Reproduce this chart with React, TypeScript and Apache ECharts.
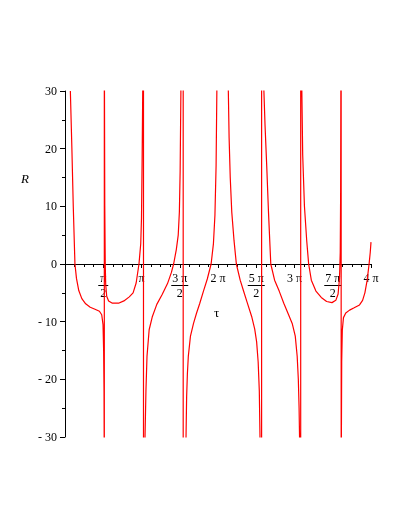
import React, { useEffect, useRef } from "react";
import * as echarts from "echarts";

// tau in multiples of pi, R values
const branch1 = [[0.07,30],[0.09,20],[0.108,10],[0.13,0],[0.15,-2.5],[0.18,-4.6],[0.22,-6.0],[0.27,-6.9],[0.33,-7.5],[0.4,-7.9],[0.45,-8.2],[0.48,-8.8],[0.497,-10.5],[0.505,-15],[0.51,-22],[0.512,-30]];
const pole1 = [[0.514,-80],[0.514,80]];
const branch2 = [[0.516,30],[0.52,10],[0.526,0],[0.532,-3.5],[0.545,-5.6],[0.57,-6.4],[0.62,-6.8],[0.7,-6.8],[0.77,-6.4],[0.84,-5.7],[0.89,-5.0],[0.93,-3.3],[0.967,0],[0.99,3.5],[1.0,8],[1.008,18],[1.016,30]];
const pole2 = [[1.026,80],[1.026,-80]];
const branch3 = [[1.046,-30],[1.058,-22],[1.072,-16],[1.1,-11.4],[1.14,-9.2],[1.2,-7.0],[1.27,-5.3],[1.34,-3.4],[1.39,-1.5],[1.42,0],[1.455,2.5],[1.48,5],[1.495,9],[1.505,16],[1.515,30]];
const pole3 = [[1.545,80],[1.545,-80]];
const branch4 = [[1.582,-30],[1.59,-23],[1.6,-19],[1.612,-16],[1.64,-12.5],[1.68,-10.3],[1.72,-8.5],[1.76,-6.9],[1.81,-4.7],[1.86,-2.6],[1.91,0],[1.94,3.5],[1.96,8.5],[1.975,17],[1.985,30]];
const overTop4 = [[2.06,150]];
const branch5 = [[2.135,30],[2.145,22],[2.16,15],[2.18,9],[2.21,4],[2.24,0],[2.29,-2.8],[2.33,-4.5],[2.38,-6.6],[2.44,-9.1],[2.48,-11.3],[2.505,-13.5],[2.525,-17],[2.54,-22],[2.549,-30]];
const pole5 = [[2.57,-80],[2.57,80]];
const branch6 = [[2.6,30],[2.615,24],[2.637,17],[2.66,9],[2.69,0],[2.74,-2.8],[2.8,-4.7],[2.86,-6.8],[2.92,-8.7],[2.97,-10.3],[3.01,-12.5],[3.035,-16],[3.05,-20],[3.06,-25],[3.066,-30]];
const pole6 = [[3.081,-80],[3.081,80]];
const branch7 = [[3.096,30],[3.107,19],[3.13,10],[3.16,4],[3.185,0],[3.22,-2.8],[3.28,-4.7],[3.35,-5.8],[3.42,-6.5],[3.49,-6.7],[3.54,-6.3],[3.57,-5.2],[3.588,-2.5],[3.598,2],[3.603,12],[3.606,30]];
const pole7 = [[3.61,80],[3.61,-80]];
const branch8 = [[3.613,-30],[3.617,-17],[3.625,-11.5],[3.64,-9.3],[3.67,-8.5],[3.72,-8.0],[3.78,-7.6],[3.85,-7.1],[3.89,-6.3],[3.92,-5.0],[3.95,-2.8],[3.975,0],[3.99,2],[4.0,3.8]];

// x tick labels (index = tau/pi / 0.5)
const xTickNum = ["", "π", "π", "3 π", "2 π", "5 π", "3 π", "7 π", "4 π"];
const xTickDen = ["", "2", "", "2", "", "2", "", "2", ""];
const yTicks = [-30, -20, -10, 0, 10, 20, 30];

const FONT = "Liberation Serif";

export default function App() {
  const ref = useRef<HTMLDivElement>(null);
  useEffect(() => {
    if (!ref.current) return;
    const chart = echarts.init(ref.current, undefined, { renderer: "svg" });
    const data = [
      ...branch1, ...pole1, ...branch2, ...pole2, ...branch3, ...pole3,
      ...branch4, ...overTop4, ...branch5, ...pole5, ...branch6, ...pole6,
      ...branch7, ...pole7, ...branch8,
    ];
    chart.setOption({
      animation: false,
      grid: { left: 65, right: 38, top: 91, bottom: 92, containLabel: false },
      xAxis: {
        type: "value",
        min: 0,
        max: 4,
        interval: 0.5,
        offset: -173,
        axisLine: { show: true, onZero: false, lineStyle: { color: "#000", width: 1 } },
        axisTick: { show: true, length: 4, lineStyle: { color: "#000" } },
        minorTick: { show: true, splitNumber: 4, length: 3, lineStyle: { color: "#000" } },
        splitLine: { show: false },
        axisLabel: {
          margin: 8,
          showMinLabel: true,
          showMaxLabel: true,
          fontFamily: FONT,
          fontSize: 12,
          color: "#000",
          formatter: (v: number) => {
            const i = Math.round(v / 0.5);
            const n = xTickNum[i] || "";
            const d = xTickDen[i] || "";
            if (!n) return "";
            if (!d) return `{n|${n}}`;
            return `{n|${n}}\n{${i === 1 ? "b1" : "b2"}|}\n{n|${d}}`;
          },
          rich: {
            n: { fontFamily: FONT, fontSize: 12, lineHeight: 12, color: "#000" },
            b1: { width: 10, height: 1, lineHeight: 3, backgroundColor: "#000" },
            b2: { width: 17, height: 1, lineHeight: 3, backgroundColor: "#000" },
          },
        },
      },
      yAxis: {
        type: "value",
        min: yTicks[0],
        max: yTicks[yTicks.length - 1],
        interval: 10,
        axisLine: { show: true, onZero: false, lineStyle: { color: "#000", width: 1 } },
        axisTick: { show: true, length: 5, lineStyle: { color: "#000" } },
        minorTick: { show: true, splitNumber: 2, length: 3, lineStyle: { color: "#000" } },
        splitLine: { show: false },
        axisLabel: {
          margin: 8,
          fontFamily: FONT,
          fontSize: 12,
          color: "#000",
          formatter: (v: number) => (v < 0 ? "- " + -v : String(v)),
        },
      },
      graphic: [
        { type: "text", left: 21, top: 172, style: { text: "R", fontFamily: FONT, fontStyle: "italic", fontSize: 13, fill: "#000" } },
        { type: "text", left: 214, top: 306, style: { text: "τ", fontFamily: FONT, fontSize: 13, fill: "#000" } },
      ],
      series: [
        {
          type: "line",
          data,
          showSymbol: false,
          symbol: "none",
          clip: true,
          lineStyle: { color: "#ff0000", width: 1.2 },
        },
      ],
    });
    return () => chart.dispose();
  }, []);
  return <div ref={ref} style={{ position: "fixed", left: 0, top: 0, width: 409, height: 529 }} />;
}
